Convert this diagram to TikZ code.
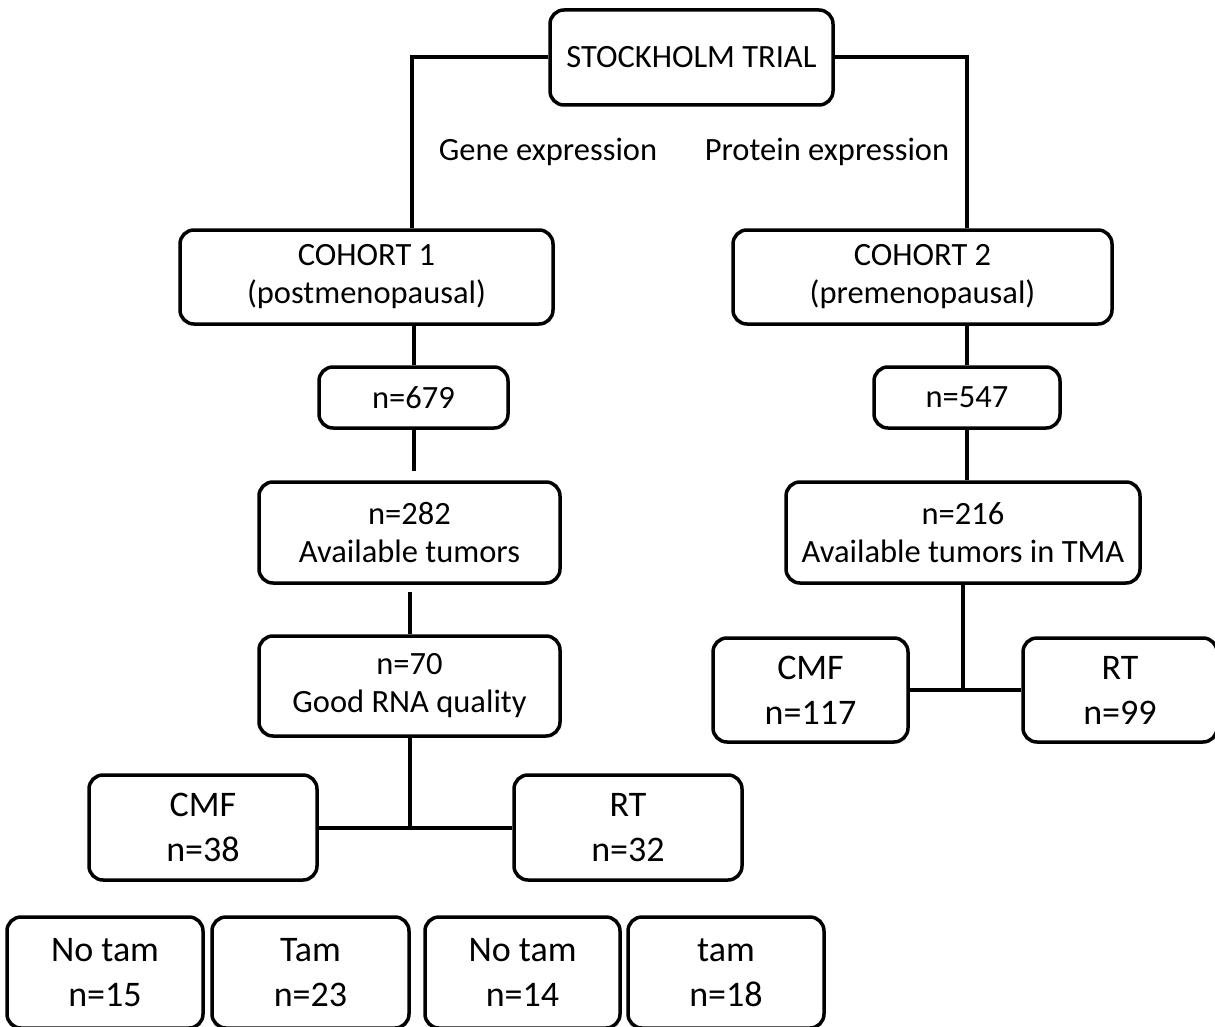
\documentclass[tikz,border=0pt]{standalone}
\usepackage{fontspec}
\setmainfont{Carlito}
\tikzset{
  box/.style={draw, line width=3.5pt, rounded corners=14pt, inner sep=0pt, align=center,
              font=\fontsize{32.5}{38}\selectfont},
  big/.style={font=\fontsize{36}{45}\selectfont},
  lbl/.style={inner sep=0pt, font=\fontsize{32.5}{38}\selectfont},
  link/.style={line width=4pt}
}
\begin{document}
\begin{tikzpicture}[x=1pt,y=-1pt]
\useasboundingbox (0,0) rectangle (1215,1027);
% nodes
\node[box, minimum width=283pt, minimum height=95pt] (stock) at (691.5,57.5) {STOCKHOLM TRIAL};
\node[lbl] (gene) at (548,152) {Gene expression};
\node[lbl] (prot) at (827,152) {Protein expression};
\node[box, minimum width=373pt, minimum height=94pt] (c1) at (366.5,277) {COHORT 1\\(postmenopausal)};
\node[box, minimum width=379pt, minimum height=94pt] (c2) at (922.5,277) {COHORT 2\\(premenopausal)};
\node[box, minimum width=189pt, minimum height=61pt] (n679) at (413.5,397.5) {n=679};
\node[box, minimum width=186pt, minimum height=61pt] (n547) at (967,397.5) {n=547};
\node[box, minimum width=301pt, minimum height=101pt] (n282) at (409.5,532.5) {n=282\\Available tumors};
\node[box, minimum width=354pt, minimum height=101pt] (n216) at (963,532.5) {n=216\\Available tumors in TMA};
\node[box, minimum width=301pt, minimum height=100pt] (n70) at (409.5,686) {n=70\\Good RNA quality};
\node[box, big, minimum width=228pt, minimum height=105pt] (cmfL) at (203,827.5) {CMF\\n=38};
\node[box, big, minimum width=228pt, minimum height=105pt] (rtL) at (628,827.5) {RT\\n=32};
\node[box, big, minimum width=195pt, minimum height=104pt] (cmfR) at (810.5,690) {CMF\\n=117};
\node[box, big, minimum width=194pt, minimum height=104pt] (rtR) at (1120,690) {RT\\n=99};
\node[box, big, minimum width=196pt, minimum height=111pt] (b1) at (105,972.5) {No tam\\n=15};
\node[box, big, minimum width=197pt, minimum height=111pt] (b2) at (310.5,972.5) {Tam\\n=23};
\node[box, big, minimum width=195pt, minimum height=111pt] (b3) at (522.5,972.5) {No tam\\n=14};
\node[box, big, minimum width=196pt, minimum height=111pt] (b4) at (726,972.5) {tam\\n=18};
% connectors
\coordinate (c1top) at (412,228);
\coordinate (c2top) at (967,228);
\draw[link] (stock.west) -| (c1top);
\draw[link] (stock.east) -| (c2top);
\draw[link] (n679.north) -- (n679.north |- c1.south);
\draw[link, shorten >=9pt] (n679.south) -- (n679.south |- n282.north);
\draw[link, shorten <=7pt] (n70.north |- n282.south) -- (n70.north);
\coordinate (jL) at (n70.south |- cmfL.east);
\draw[link] (n70.south) -- (jL);
\draw[link] (cmfL.east) -- (rtL.west);
\draw[link] (n547.north) -- (n547.north |- c2.south);
\draw[link] (n547.south) -- (n547.south |- n216.north);
\coordinate (jR) at (n216.south |- cmfR.east);
\draw[link] (n216.south) -- (jR);
\draw[link] (cmfR.east) -- (rtR.west);
\end{tikzpicture}
\end{document}
